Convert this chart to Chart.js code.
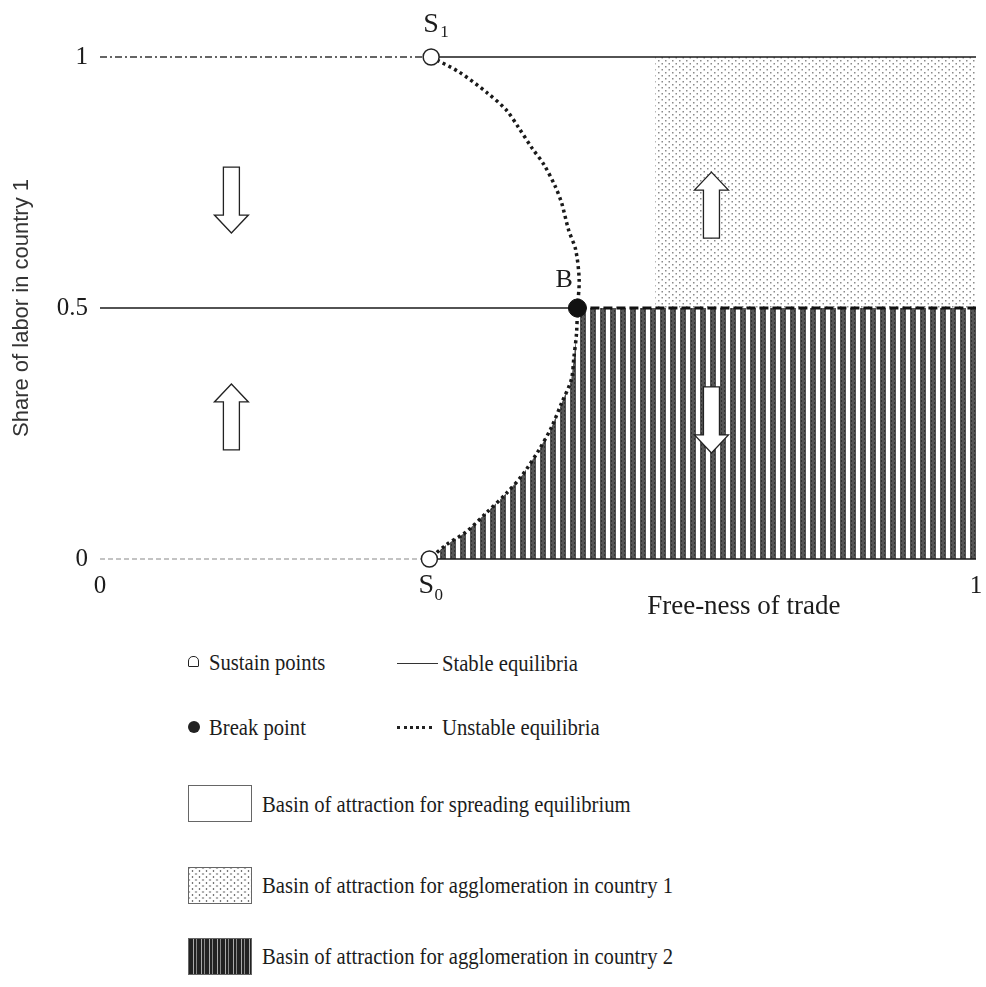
<!DOCTYPE html>
<html>
<head>
<meta charset="utf-8">
<script src="https://cdn.jsdelivr.net/npm/chart.js@4.4.1/dist/chart.umd.min.js"></script>
<style>
body { margin:0; background:#fff; width:986px; height:987px; overflow:hidden; position:relative; font-family:"Liberation Serif", serif; color:#1c1c1c; }
#wrap { position:absolute; left:0; top:0; width:986px; height:620px; }
.txt { position:absolute; font-size:24px; line-height:28px; white-space:nowrap; transform:scaleX(0.86); transform-origin:left center; }
.ico { position:absolute; }
.box { position:absolute; width:62px; height:35px; border:1px solid #666; }
</style>
</head>
<body>
<div id="wrap"><canvas id="grafico" width="986" height="620"></canvas></div>

<div class="ico" style="left:188px;top:656px;width:9px;height:9px;border:1.5px solid #222;border-radius:5px 5px 1px 1px;"></div>
<div class="txt" style="left:209px;top:648px;">Sustain points</div>
<div class="ico" style="left:397px;top:663px;width:41px;border-top:1px solid #333;"></div>
<div class="txt" style="left:442px;top:649px;">Stable equilibria</div>

<div class="ico" style="left:188px;top:721px;width:12px;height:12px;border-radius:6px;background:#222;"></div>
<div class="txt" style="left:209px;top:713px;">Break point</div>
<div class="ico" style="left:397px;top:726px;width:35px;border-top:3px dotted #222;"></div>
<div class="txt" style="left:442px;top:713px;">Unstable equilibria</div>

<div class="box" style="left:188px;top:785px;background:#fff;"></div>
<div class="txt" style="left:262px;top:790px;">Basin of attraction for spreading equilibrium</div>

<div class="box" style="left:188px;top:867px;background-color:#fff;background-image:radial-gradient(#777 0.9px, transparent 1.2px),radial-gradient(#777 0.9px, transparent 1.2px);background-size:7px 6px;background-position:0 0,3.5px 3px;"></div>
<div class="txt" style="left:262px;top:871px;">Basin of attraction for agglomeration in country 1</div>

<div class="box" style="left:188px;top:938px;background:repeating-linear-gradient(90deg,#222 0 4px,#aaa 4px 5px,#222 5px 7px,#888 7px 8px);"></div>
<div class="txt" style="left:262px;top:942px;">Basin of attraction for agglomeration in country 2</div>

<script>
// curva delle equilibri instabili (da S1 a B, poi da B a S0)
const upperCurveX = [0.378, 0.410, 0.441, 0.464, 0.478, 0.493, 0.507, 0.520, 0.527, 0.535, 0.543, 0.547, 0.545];
const upperCurveY = [1.000, 0.970, 0.930, 0.894, 0.859, 0.819, 0.785, 0.741, 0.709, 0.655, 0.616, 0.556, 0.500];
const lowerCurveX = [0.545, 0.544, 0.541, 0.538, 0.527, 0.515, 0.501, 0.482, 0.464, 0.441, 0.418, 0.395, 0.376];
const lowerCurveY = [0.500, 0.450, 0.402, 0.357, 0.311, 0.261, 0.217, 0.167, 0.131, 0.092, 0.054, 0.028, 0.000];

const sustainX = [0.378, 0.376];
const sustainY = [1, 0];
const sustainLabels = ['1', '0'];
const breakX = [0.545];
const breakY = [0.5];

const basin1X = [0.634, 1];
const basin1Y = [0.5, 1];

const arrowX = [0.150, 0.150, 0.698, 0.698];
const arrowY = [0.715, 0.283, 0.705, 0.277];
const arrowDir = [-1, 1, 1, -1];

const xTicks = [0, 1];
const xTickLabels = ['0', '1'];
const yTicks = [0, 0.5, 1];
const yTickLabels = ['0', '0.5', '1'];

function punti(xs, ys) {
    let out = [];
    for (let i = 0; i < xs.length; i++) {
        out.push({x: xs[i], y: ys[i]});
    }
    return out;
}

function creaPattern(w, h, disegna) {
    let c = document.createElement('canvas');
    c.width = w;
    c.height = h;
    let g = c.getContext('2d');
    disegna(g);
    return g.createPattern(c, 'repeat');
}

const puntini = creaPattern(7, 6, function(g) {
    g.fillStyle = '#fff';
    g.fillRect(0, 0, 7, 6);
    g.fillStyle = '#8a8a8a';
    g.fillRect(0, 0, 1.5, 1.5);
    g.fillRect(3.5, 3, 1.5, 1.5);
});

const strisce = creaPattern(10, 4, function(g) {
    g.fillStyle = '#fff';
    g.fillRect(0, 0, 10, 4);
    g.fillStyle = '#555';
    g.fillRect(0, 0, 6, 4);
    g.fillStyle = '#333';
    g.fillRect(1, 0, 1, 2);
    g.fillRect(4, 2, 1, 2);
});

// poligono del bacino del paese 2: curva bassa + bordo destro
let basin2 = punti(lowerCurveX, lowerCurveY);
basin2.push({x: 1, y: 0});
basin2.push({x: 1, y: 0.5});

let basin1 = [
    {x: basin1X[0], y: basin1Y[1]},
    {x: basin1X[1], y: basin1Y[1]},
    {x: basin1X[1], y: basin1Y[0]},
    {x: basin1X[0], y: basin1Y[0]}
];

function linea(data, colore, spessore, dash, ordine) {
    return {
        data: data,
        borderColor: colore,
        borderWidth: spessore,
        borderDash: dash,
        pointRadius: 0,
        fill: false,
        clip: false,
        order: ordine
    };
}

const datasets = [
    {data: basin1, backgroundColor: puntini, borderWidth: 0, pointRadius: 0, fill: 'shape', order: 10},
    {data: basin2, backgroundColor: strisce, borderWidth: 0, pointRadius: 0, fill: 'shape', order: 9},
    // stabili
    linea([{x: sustainX[0], y: 1}, {x: 1, y: 1}], '#1a1a1a', 1.5, [], 5),
    linea([{x: 0, y: 0.5}, {x: breakX[0], y: 0.5}], '#1a1a1a', 1.5, [], 5),
    linea([{x: sustainX[1], y: 0}, {x: 1, y: 0}], '#1a1a1a', 1.5, [], 5),
    // instabili
    linea([{x: 0, y: 1}, {x: sustainX[0], y: 1}], '#333', 1.5, [7, 3, 2, 3], 5),
    linea([{x: 0, y: 0}, {x: sustainX[1], y: 0}], '#888', 1.2, [5, 3], 5),
    linea([{x: breakX[0], y: 0.5}, {x: 1, y: 0.5}], '#111', 3, [9, 4], 4),
    Object.assign(linea(punti(upperCurveX, upperCurveY), '#1a1a1a', 3.5, [3, 3.5], 4), {tension: 0.3}),
    Object.assign(linea(punti(lowerCurveX, lowerCurveY), '#1a1a1a', 3.5, [3, 3.5], 4), {tension: 0.3}),
    // punti
    {data: punti(sustainX, sustainY), showLine: false, pointRadius: 8, pointBackgroundColor: '#fff',
        pointBorderColor: '#222', pointBorderWidth: 1.5, clip: false, order: 1},
    {data: punti(breakX, breakY), showLine: false, pointRadius: 9, pointBackgroundColor: '#111',
        pointBorderColor: '#111', pointBorderWidth: 1, clip: false, order: 0}
];

function disegnaFreccia(ctx, cx, cy, dir) {
    const h = 66, hw = 17, sw = 8, hh = 18;
    const tip = cy - dir * h / 2;
    const base = cy + dir * h / 2;
    const neck = tip + dir * hh;
    ctx.beginPath();
    ctx.moveTo(cx, tip);
    ctx.lineTo(cx + hw, neck);
    ctx.lineTo(cx + sw, neck);
    ctx.lineTo(cx + sw, base);
    ctx.lineTo(cx - sw, base);
    ctx.lineTo(cx - sw, neck);
    ctx.lineTo(cx - hw, neck);
    ctx.closePath();
    ctx.fillStyle = '#fff';
    ctx.fill();
    ctx.strokeStyle = '#222';
    ctx.lineWidth = 1.3;
    ctx.stroke();
}

const annotazioni = {
    id: 'annotazioni',
    afterDatasetsDraw(chart) {
        const ctx = chart.ctx;
        const xs = chart.scales.x, ys = chart.scales.y;
        ctx.save();
        for (let i = 0; i < arrowX.length; i++) {
            disegnaFreccia(ctx, xs.getPixelForValue(arrowX[i]), ys.getPixelForValue(arrowY[i]), arrowDir[i]);
        }
        ctx.fillStyle = '#1c1c1c';
        ctx.textAlign = 'left';
        ctx.textBaseline = 'alphabetic';
        // S1
        let px = xs.getPixelForValue(sustainX[0]), py = ys.getPixelForValue(sustainY[0]);
        ctx.font = '28px "Liberation Serif"';
        ctx.fillText('S', px - 8, py - 25);
        ctx.font = '17px "Liberation Serif"';
        ctx.fillText(sustainLabels[0], px + 9, py - 20);
        // S0
        px = xs.getPixelForValue(sustainX[1]); py = ys.getPixelForValue(sustainY[1]);
        ctx.font = '28px "Liberation Serif"';
        ctx.fillText('S', px - 11, py + 34);
        ctx.font = '17px "Liberation Serif"';
        ctx.fillText(sustainLabels[1], px + 5, py + 41);
        // B
        px = xs.getPixelForValue(breakX[0]); py = ys.getPixelForValue(breakY[0]);
        ctx.font = '26px "Liberation Serif"';
        ctx.fillText('B', px - 22, py - 21);
        // titolo asse x
        ctx.font = '27px "Liberation Serif"';
        ctx.textAlign = 'center';
        ctx.fillText('Free-ness of trade', xs.getPixelForValue(0.735), ys.getPixelForValue(0) + 55);
        ctx.restore();
    }
};

new Chart('grafico', {
    type: 'line',
    data: {datasets: datasets},
    options: {
        responsive: false,
        animation: false,
        events: [],
        layout: {padding: {top: 57, right: 8, left: 0, bottom: 0}},
        plugins: {legend: {display: false}, tooltip: {enabled: false}},
        scales: {
            x: {
                type: 'linear', min: 0, max: 1,
                afterFit: function(s) { s.height = 61; s.paddingLeft = 0; s.paddingRight = 0; },
                afterBuildTicks: function(s) { s.ticks = xTicks.map(v => ({value: v})); },
                grid: {display: false, drawTicks: false},
                border: {display: false},
                ticks: {padding: 12, color: '#1c1c1c', font: {family: '"Liberation Serif"', size: 25},
                    callback: function(v, i) { return xTickLabels[i]; }}
            },
            y: {
                type: 'linear', min: 0, max: 1,
                afterFit: function(s) { s.width = 100; s.paddingTop = 0; s.paddingBottom = 0; },
                afterBuildTicks: function(s) { s.ticks = yTicks.map(v => ({value: v})); },
                grid: {display: false, drawTicks: false},
                border: {display: false},
                ticks: {padding: 12, color: '#1c1c1c', font: {family: '"Liberation Serif"', size: 25},
                    callback: function(v, i) { return yTickLabels[i]; }},
                title: {display: true, text: 'Share of labor in country 1', color: '#333',
                    padding: {top: 9, bottom: 0}, font: {family: '"Liberation Sans"', size: 22}}
            }
        }
    },
    plugins: [annotazioni]
});
</script>
</body>
</html>
